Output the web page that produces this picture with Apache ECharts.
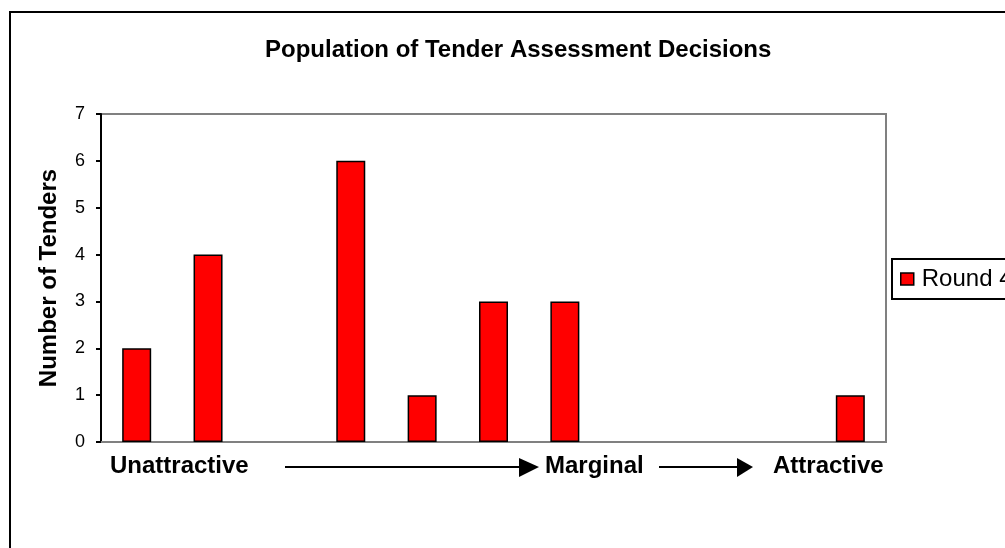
<!DOCTYPE html>
<html>
<head>
<meta charset="utf-8">
<script src="https://cdn.jsdelivr.net/npm/echarts@6/dist/echarts.min.js"></script>
<style>
html,body{margin:0;padding:0;background:#fff;}
#chart{width:1005px;height:548px;}
</style>
</head>
<body>
<div id="chart"></div>
<script>
var titleText = 'Population of Tender Assessment Decisions';
var yAxisTitle = 'Number of Tenders';
var seriesName = 'Round 4';
var categories = ['1','2','3','4','5','6','7','8','9','10','11'];
var values = [2, 4, 0, 6, 1, 3, 3, 0, 0, 0, 1];
var yTicks = [0, 1, 2, 3, 4, 5, 6, 7];
var scaleLabels = ['Unattractive', 'Marginal', 'Attractive'];

var FONT = '"Liberation Sans", Arial, sans-serif';
var chart = echarts.init(document.getElementById('chart'), null, {renderer: 'canvas'});

var barData = values.map(function (v) {
  return v === 0 ? {value: v, itemStyle: {borderWidth: 0}} : v;
});

var option = {
  animation: false,
  backgroundColor: '#ffffff',
  title: {
    text: titleText,
    left: 260,
    top: 33,
    textStyle: {fontFamily: FONT, fontSize: 24, fontWeight: 'bold', color: '#000'}
  },
  grid: {
    left: 101, right: 119, top: 114, bottom: 106,
    show: true, borderColor: '#808080', borderWidth: 2, backgroundColor: 'transparent'
  },
  legend: {
    data: [seriesName],
    left: 892, top: 259,
    orient: 'vertical',
    padding: [8, 8, 8, 8],
    borderColor: '#000', borderWidth: 2,
    itemWidth: 13, itemHeight: 12,
    icon: 'rect',
    itemStyle: {color: '#ff0000', borderColor: '#000', borderWidth: 1.5},
    textStyle: {fontFamily: FONT, fontSize: 24, color: '#000', padding: [0, 0, 0, 3]}
  },
  xAxis: {
    type: 'category',
    data: categories,
    axisLine: {show: true, lineStyle: {color: '#808080', width: 2}},
    axisTick: {show: false},
    axisLabel: {show: false},
    splitLine: {show: false}
  },
  yAxis: {
    type: 'value',
    min: yTicks[0], max: yTicks[yTicks.length - 1], interval: 1,
    name: yAxisTitle,
    nameLocation: 'middle',
    nameGap: 40,
    nameTextStyle: {fontFamily: FONT, fontSize: 24, fontWeight: 'bold', color: '#000'},
    axisLine: {show: true, lineStyle: {color: '#000', width: 2}},
    axisTick: {show: true, inside: false, length: 5, lineStyle: {color: '#000', width: 2}},
    axisLabel: {fontFamily: FONT, fontSize: 18, color: '#000', margin: 16},
    splitLine: {show: false}
  },
  series: [{
    name: seriesName,
    type: 'bar',
    data: barData,
    barWidth: 29,
    itemStyle: {color: '#ff0000', borderColor: '#000', borderWidth: 1.5}
  }],
  graphic: [
    {type: 'rect', z: -10, shape: {x: 10, y: 12, width: 1200, height: 800},
     style: {fill: 'none', stroke: '#000', lineWidth: 2}},
    {type: 'text', x: 110, y: 466,
     style: {text: scaleLabels[0], font: 'bold 24px ' + FONT, fill: '#000', textAlign: 'left', textVerticalAlign: 'middle'}},
    {type: 'text', x: 545, y: 466,
     style: {text: scaleLabels[1], font: 'bold 24px ' + FONT, fill: '#000', textAlign: 'left', textVerticalAlign: 'middle'}},
    {type: 'text', x: 773, y: 466,
     style: {text: scaleLabels[2], font: 'bold 24px ' + FONT, fill: '#000', textAlign: 'left', textVerticalAlign: 'middle'}},
    {type: 'line', shape: {x1: 285, y1: 467, x2: 522, y2: 467}, style: {stroke: '#000', lineWidth: 2}},
    {type: 'polygon', shape: {points: [[519, 458], [539, 467], [519, 477]]}, style: {fill: '#000'}},
    {type: 'line', shape: {x1: 659, y1: 467, x2: 740, y2: 467}, style: {stroke: '#000', lineWidth: 2}},
    {type: 'polygon', shape: {points: [[737, 458], [753, 467], [737, 477]]}, style: {fill: '#000'}}
  ]
};
chart.setOption(option);
</script>
</body>
</html>
